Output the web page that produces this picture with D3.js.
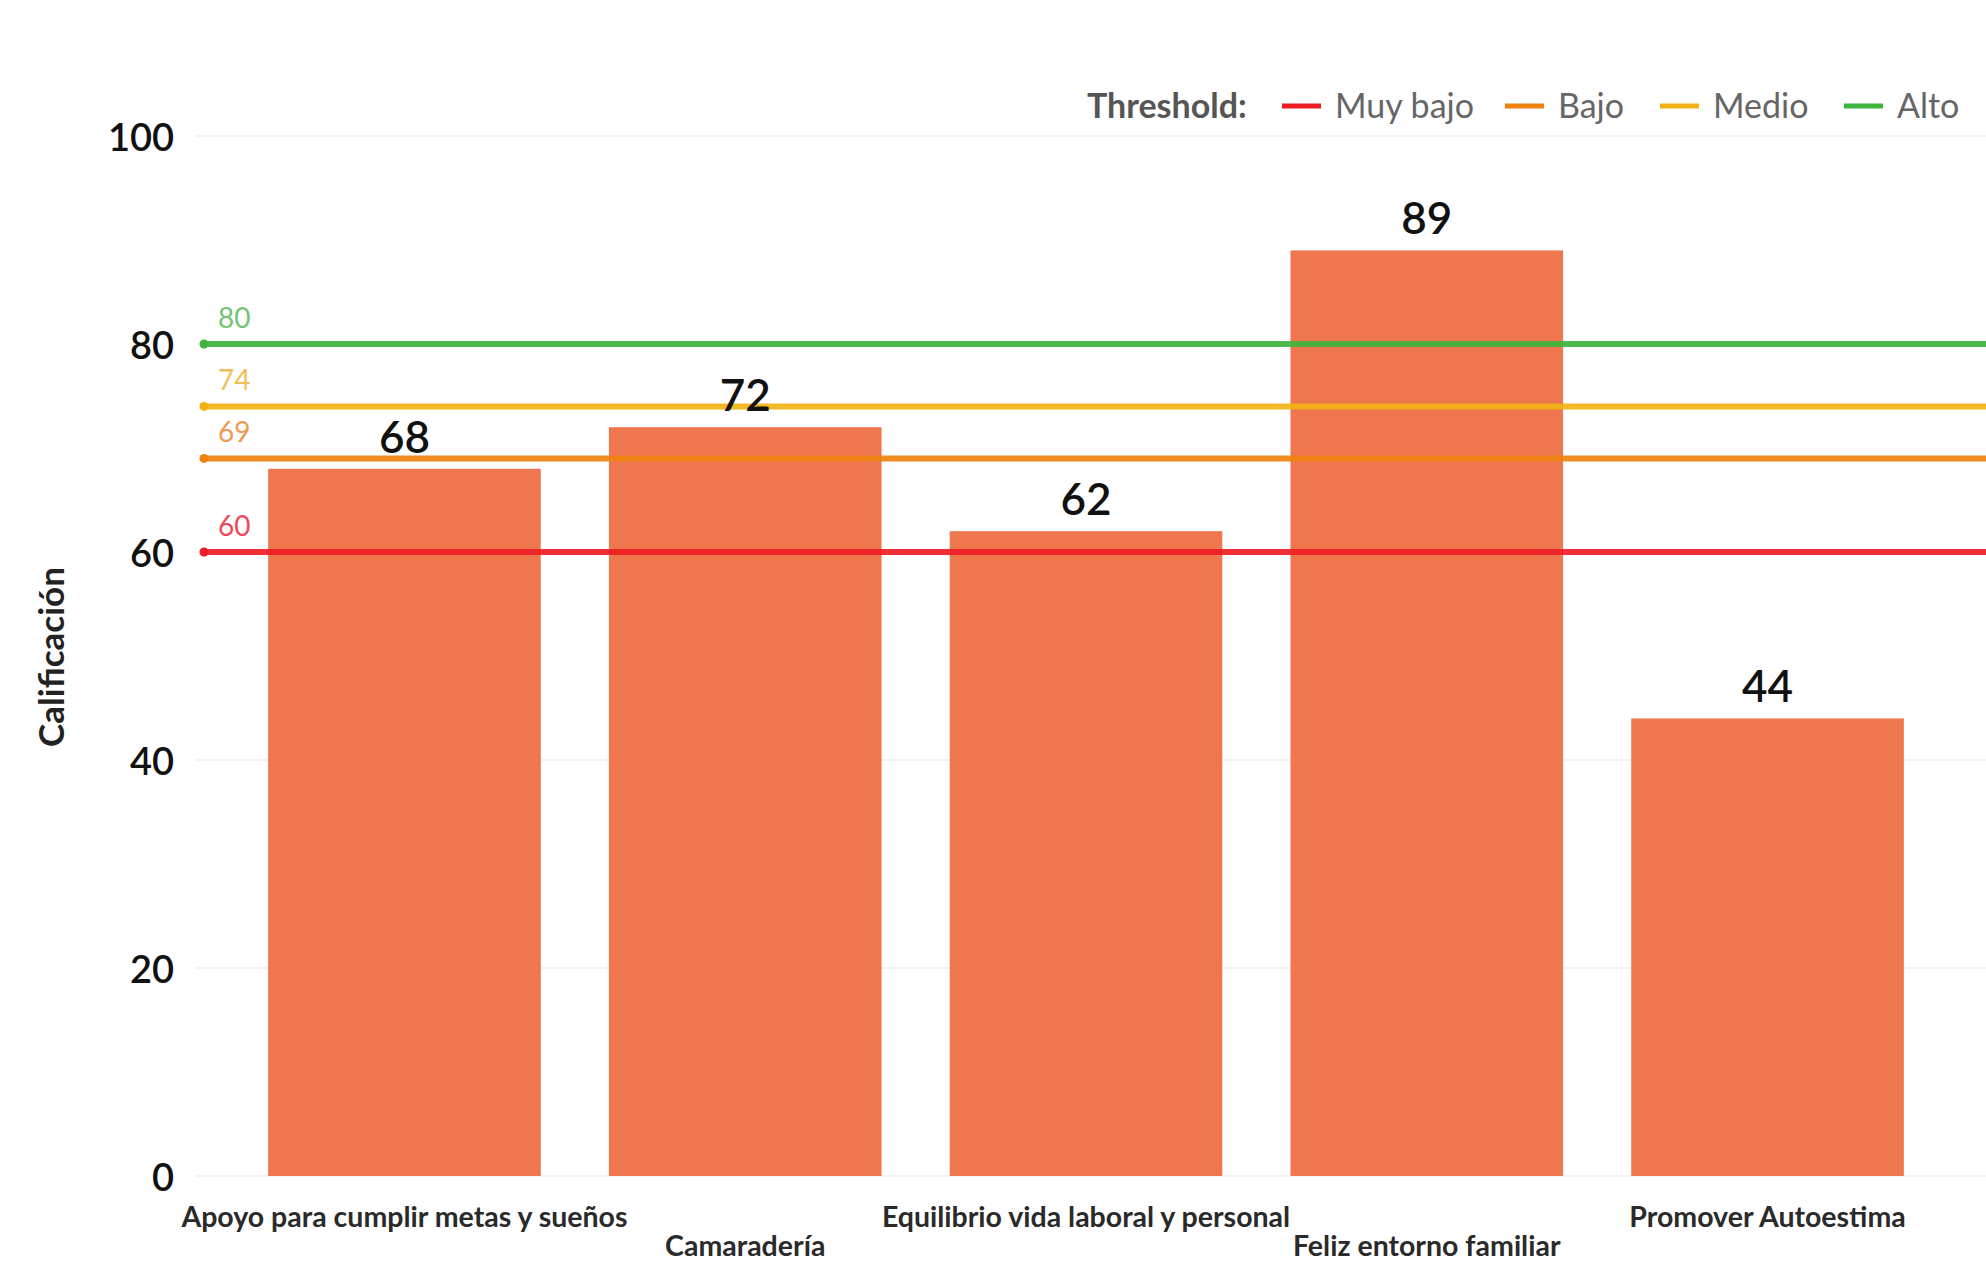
<!DOCTYPE html>
<html>
<head>
<meta charset="utf-8">
<script src="https://cdn.jsdelivr.net/npm/d3@7"></script>
<style>
  html, body { margin: 0; padding: 0; background: #fff; }
  svg { display: block; font-family: Lato, "Open Sans", sans-serif; }
</style>
</head>
<body>
<svg id="chart" width="1986" height="1261"></svg>
<script>
// Categories and scores
const categories = [
  "Apoyo para cumplir metas y sueños",
  "Camaradería",
  "Equilibrio vida laboral y personal",
  "Feliz entorno familiar",
  "Promover Autoestima"
];
const scores = [68, 72, 62, 89, 44];

// Threshold levels
const thresholdNames = ["Muy bajo", "Bajo", "Medio", "Alto"];
const thresholdValues = [60, 69, 74, 80];
const thresholdColors = ["#ee1c25", "#f0820f", "#f2b215", "#3db53d"];
const thresholdLabelColors = ["#f04a5a", "#f09a50", "#f2be55", "#72c472"];

const yTicks = [0, 20, 40, 60, 80, 100];

const svg = d3.select("#chart");
const W = 1986, H = 1261;
const plot = { left: 200, right: 1972, top: 136, bottom: 1176 };

const x = d3.scaleBand()
  .domain(categories)
  .range([plot.left, plot.right])
  .paddingInner(0.2)
  .paddingOuter(0.2);

const y = d3.scaleLinear()
  .domain([0, 100])
  .range([plot.bottom, plot.top]);

// faint horizontal grid
svg.append("g")
  .selectAll("line")
  .data(yTicks)
  .join("line")
  .attr("x1", plot.left - 4)
  .attr("x2", W)
  .attr("y1", d => y(d))
  .attr("y2", d => y(d))
  .attr("stroke", "#f3f3f3")
  .attr("stroke-width", 2);

// y axis (labels only)
const yAxis = svg.append("g")
  .attr("transform", `translate(${plot.left - 26},0)`)
  .call(d3.axisLeft(y).tickValues(yTicks).tickSize(0).tickPadding(0));
yAxis.select(".domain").remove();
yAxis.selectAll("text")
  .attr("font-family", "Lato, sans-serif")
  .attr("font-size", 38)
  .attr("font-weight", 600)
  .attr("fill", "#111")
  .attr("dy", "0.38em");

// y axis title
svg.append("text")
  .attr("transform", `translate(${64},${657}) rotate(-90)`)
  .attr("text-anchor", "middle")
  .attr("font-size", 35)
  .attr("font-weight", 700)
  .attr("fill", "#222")
  .text("Calificación");

// bars
svg.append("g")
  .selectAll("rect")
  .data(categories)
  .join("rect")
  .attr("x", d => x(d))
  .attr("width", x.bandwidth())
  .attr("y", (d, i) => y(scores[i]))
  .attr("height", (d, i) => y(0) - y(scores[i]))
  .attr("fill", "#ee7750");

// threshold lines over bars
const th = svg.append("g");
thresholdValues.forEach((v, i) => {
  th.append("line")
    .attr("x1", plot.left + 3)
    .attr("x2", W)
    .attr("y1", y(v))
    .attr("y2", y(v))
    .attr("stroke", thresholdColors[i])
    .attr("stroke-width", 6)
    .attr("stroke-opacity", 0.92);
  th.append("circle")
    .attr("cx", plot.left + 4)
    .attr("cy", y(v))
    .attr("r", 4.5)
    .attr("fill", thresholdColors[i]);
  th.append("text")
    .attr("x", plot.left + 18)
    .attr("y", y(v) - 16)
    .attr("font-size", 28)
    .attr("fill", thresholdLabelColors[i])
    .text(v);
});

// value labels
svg.append("g")
  .selectAll("text")
  .data(categories)
  .join("text")
  .attr("x", d => x(d) + x.bandwidth() / 2)
  .attr("y", (d, i) => y(scores[i]) - 16)
  .attr("text-anchor", "middle")
  .attr("font-size", 44)
  .attr("font-weight", 600)
  .attr("fill", "#111")
  .text((d, i) => scores[i]);

// category labels, staggered
svg.append("g")
  .selectAll("text")
  .data(categories)
  .join("text")
  .attr("x", d => x(d) + x.bandwidth() / 2)
  .attr("y", (d, i) => i % 2 === 0 ? 1227 : 1256)
  .attr("text-anchor", "middle")
  .attr("font-size", 28.5)
  .attr("font-weight", 700)
  .attr("fill", "#2a2a2a")
  .text(d => d);

// legend
const legend = svg.append("g").attr("transform", "translate(0,106)");
legend.append("text")
  .attr("x", 1087)
  .attr("dy", "0.35em")
  .attr("font-size", 34)
  .attr("font-weight", 700)
  .attr("fill", "#555")
  .text("Threshold:");
const legendX = [1282, 1505, 1660, 1844];
thresholdNames.forEach((name, i) => {
  legend.append("line")
    .attr("x1", legendX[i]).attr("x2", legendX[i] + 39)
    .attr("y1", 0).attr("y2", 0)
    .attr("stroke", thresholdColors[i])
    .attr("stroke-width", 5);
  legend.append("text")
    .attr("x", legendX[i] + 53)
    .attr("dy", "0.35em")
    .attr("font-size", 34)
    .attr("fill", "#666")
    .text(name);
});
</script>
</body>
</html>
